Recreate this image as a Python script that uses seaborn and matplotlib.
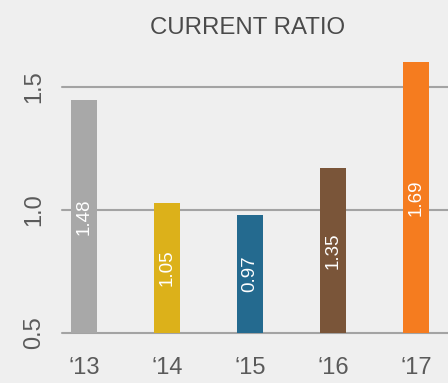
import matplotlib
matplotlib.use("Agg")
import matplotlib.pyplot as plt
import seaborn as sns
import pandas as pd

years = ["\u201813", "\u201814", "\u201815", "\u201816", "\u201817"]
bar_heights = [1.447, 1.028, 0.98, 1.171, 1.60]
bar_labels = ["1.48", "1.05", "0.97", "1.35", "1.69"]
colors = ["#a8a8a8", "#dcb11a", "#246a8f", "#7a5539", "#f57c1f"]
yticks = [0.5, 1.0, 1.5]
title = "CURRENT RATIO"

sns.set_theme(style="white")
plt.rcParams["font.family"] = ["Liberation Sans", "DejaVu Sans"]

bg = "#efefef"
fig = plt.figure(figsize=(4.48, 3.83), dpi=100, facecolor=bg)
ax = fig.add_axes([62 / 448, 50 / 383, 386 / 448, 275 / 383])
ax.set_facecolor(bg)

df = pd.DataFrame({"year": years, "value": bar_heights})
sns.barplot(data=df, x="year", y="value", hue="year", palette=colors,
            width=0.31, legend=False, ax=ax, saturation=1, zorder=3,
            linewidth=0, edgecolor="none")

ax.set_ylim(0.5, 1.618)
ax.set_xlim(-0.265, 4.385)
ax.set_yticks(yticks)
ax.set_yticklabels([f"{v:.1f}" for v in yticks], rotation=90, va="center",
                   fontsize=17, color="#5a5a5a")
ax.tick_params(axis="y", length=0, pad=12)
ax.tick_params(axis="x", length=0, pad=17, labelsize=17, labelcolor="#5a5a5a")
ax.set_xlabel("")
ax.set_ylabel("")
for s in ax.spines.values():
    s.set_visible(False)

for v in yticks:
    ax.axhline(v, color="#a3a3a3", lw=1.5, zorder=1, clip_on=False)

for i, (h, lab) in enumerate(zip(bar_heights, bar_labels)):
    ax.text(i, (h + 0.5) / 2, lab, rotation=90, ha="center", va="center",
            color="white", fontsize=13.5, zorder=4)

fig.text(248 / 448, 1 - 28 / 383, title, ha="center", va="center",
         fontsize=17.3, color="#4a4a4a")

fig.savefig("out.png", dpi=100, facecolor=bg)
